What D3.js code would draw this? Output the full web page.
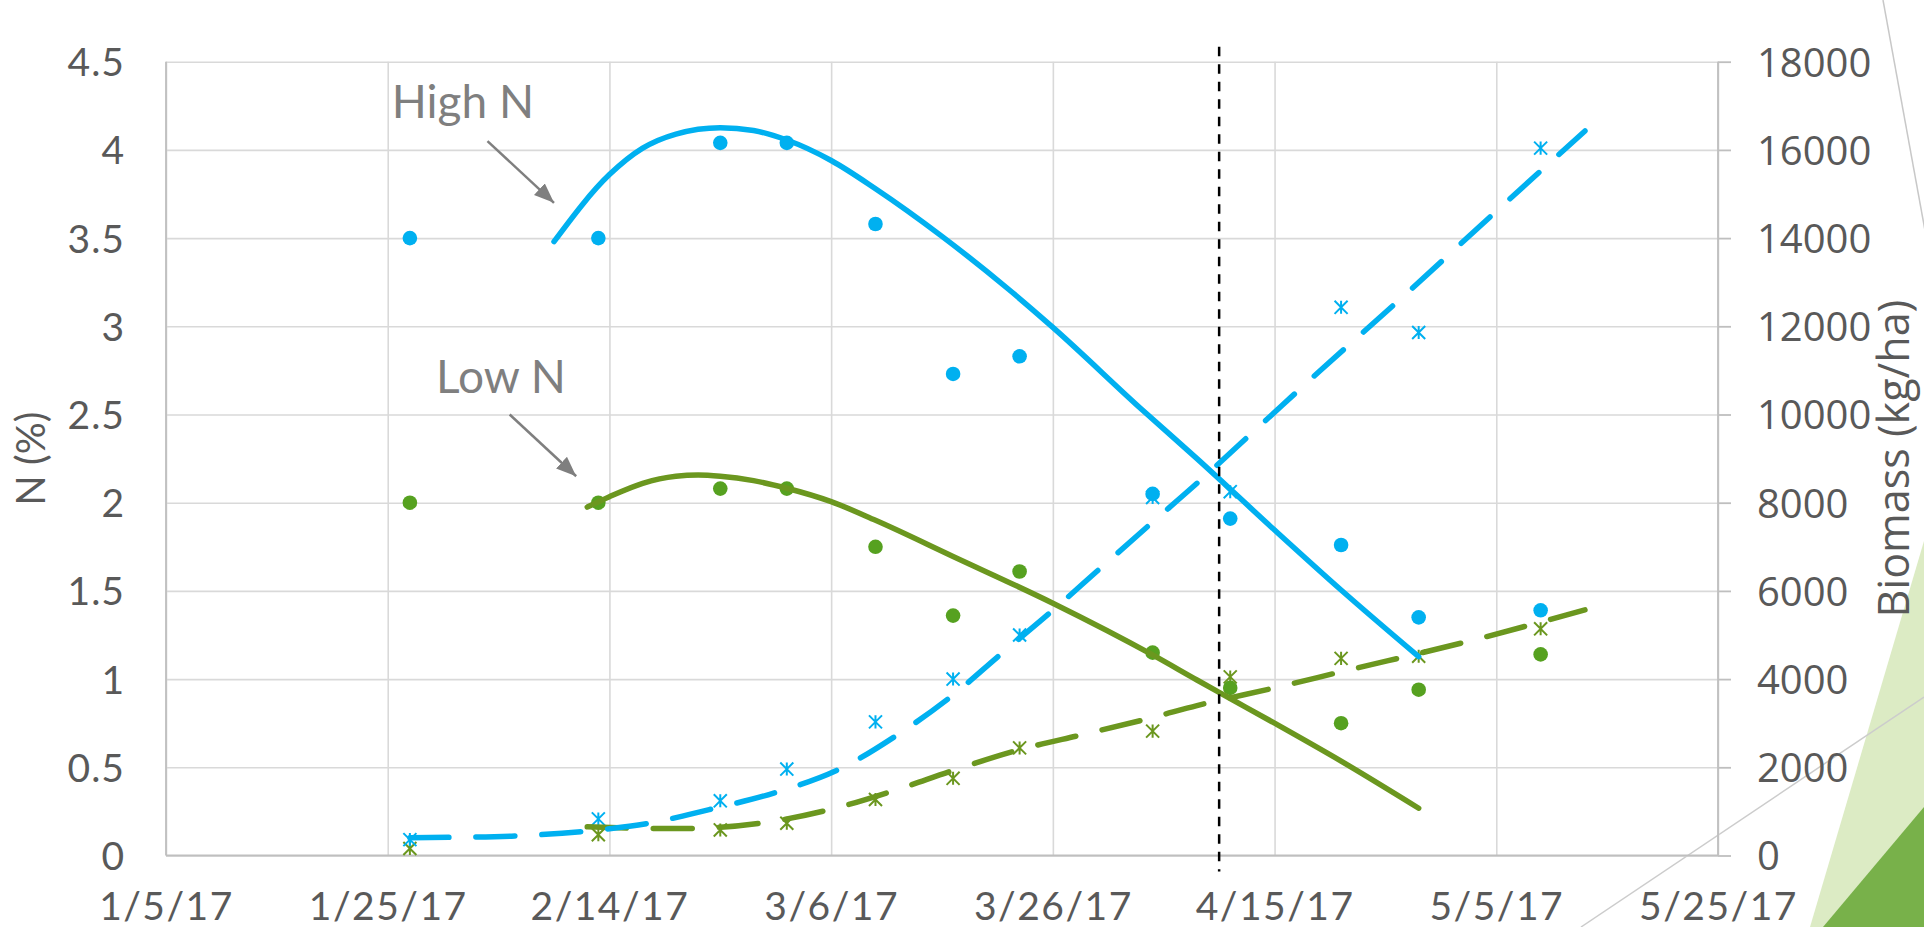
<!DOCTYPE html>
<html>
<head>
<meta charset="utf-8">
<script src="https://cdn.jsdelivr.net/npm/d3@7"></script>
<style>
  body { margin: 0; background: #fff; overflow: hidden; }
  text { font-family: Lato, sans-serif; }
</style>
</head>
<body>
<div id="chart"></div>
<script>
// sampling dates and measured values
var sampleDates = ["1/27/17", "2/13/17", "2/24/17", "3/2/17", "3/10/17", "3/17/17", "3/23/17", "4/4/17", "4/11/17", "4/21/17", "4/28/17", "5/9/17"];
var highN = [3.50, 3.50, 4.04, 4.04, 3.58, 2.73, 2.83, 2.05, 1.91, 1.76, 1.35, 1.39];
var lowN = [2.00, 2.00, 2.08, 2.08, 1.75, 1.36, 1.61, 1.15, 0.95, 0.75, 0.94, 1.14];
var highBiomass = [360, 830, 1240, 1960, 3030, 4000, 5000, 8120, 8250, 12430, 11860, 16040];
var lowBiomass = [160, 470, 580, 730, 1270, 1750, 2440, 2820, 4050, 4470, 4520, 5140];

// trend lines
var highNTrendDates = ["2/9/17", "2/14/17", "2/17/17", "2/20/17", "2/24/17", "2/27/17", "3/2/17", "3/6/17", "3/10/17", "3/16/17", "3/22/17", "3/26/17", "4/3/17", "4/8/17", "4/15/17", "4/21/17", "4/28/17"];
var highNTrend = [3.48, 3.86, 4.01, 4.09, 4.126, 4.11, 4.056, 3.94, 3.78, 3.51, 3.21, 2.994, 2.53, 2.25, 1.845, 1.505, 1.127];
var lowNTrendDates = ["2/12/17", "2/14/17", "2/17/17", "2/20/17", "2/22/17", "2/24/17", "2/27/17", "3/2/17", "3/6/17", "3/10/17", "3/17/17", "3/26/17", "4/4/17", "4/8/17", "4/11/17", "4/15/17", "4/21/17", "4/28/17"];
var lowNTrend = [1.975, 2.034, 2.11, 2.15, 2.157, 2.15, 2.125, 2.082, 2.006, 1.90, 1.695, 1.43, 1.137, 0.995, 0.89, 0.75, 0.535, 0.268];
var highBioTrendDates = ["1/27/17", "1/31/17", "2/6/17", "2/13/17", "2/18/17", "2/20/17", "2/23/17", "3/1/17", "3/7/17", "3/12/17", "3/17/17", "3/21/17", "3/26/17", "3/30/17", "4/4/17", "4/8/17", "4/14/17", "4/19/17", "4/26/17", "5/5/17", "5/13/17"];
var highBioTrend = [404, 413, 449, 578, 750, 860, 1040, 1430, 1990, 2740, 3640, 4500, 5560, 6450, 7560, 8440, 9820, 10970, 12540, 14610, 16430];
var lowBioTrendDates = ["2/12/17", "2/16/17", "2/20/17", "2/24/17", "2/28/17", "3/6/17", "3/12/17", "3/17/17", "3/23/17", "3/29/17", "4/4/17", "4/8/17", "4/15/17", "4/21/17", "5/3/17", "5/13/17"];
var lowBioTrend = [650, 620, 610, 640, 745, 1050, 1500, 1930, 2400, 2760, 3130, 3400, 3800, 4165, 4890, 5570];

// axes
var xTickLabels = ["1/5/17", "1/25/17", "2/14/17", "3/6/17", "3/26/17", "4/15/17", "5/5/17", "5/25/17"];
var nTicks = [0, 0.5, 1, 1.5, 2, 2.5, 3, 3.5, 4, 4.5];
var bioTicks = [0, 2000, 4000, 6000, 8000, 10000, 12000, 14000, 16000, 18000];
var cutDate = "4/10/17";

var width = 1924;
var height = 927;
var plotL = 166, plotR = 1718, plotT = 61.7, plotB = 855.5;

var blue = "#00b0f0";
var greenDot = "#56a120";
var greenLine = "#6b971f";
var grid = "#d9d9d9";
var axisCol = "#bfbfbf";
var labelCol = "#595959";

var parse = d3.utcParse("%m/%d/%y");

var x = d3.scaleUtc()
  .domain([parse(xTickLabels[0]), parse(xTickLabels[xTickLabels.length - 1])])
  .range([plotL, plotR]);
var yN = d3.scaleLinear().domain([0, 4.5]).range([plotB, plotT]);
var yB = d3.scaleLinear().domain([0, 18000]).range([plotB, plotT]);

var svg = d3.select("#chart").append("svg")
  .attr("width", width)
  .attr("height", height);

// slide theme decoration
var deco = svg.append("g");
deco.append("polygon").attr("points", "1810,927 1924,541 1924,927").attr("fill", "#dcebc4");
deco.append("polygon").attr("points", "1823,927 1924,807 1924,927").attr("fill", "#78b14a");
deco.append("line").attr("x1", 1883).attr("y1", 0).attr("x2", 1926).attr("y2", 236)
  .attr("stroke", "#c8c8c8").attr("stroke-width", 1.5);
deco.append("line").attr("x1", 1581).attr("y1", 927).attr("x2", 1924).attr("y2", 697)
  .attr("stroke", "#cccccc").attr("stroke-width", 1.5);

// grid
var gridG = svg.append("g");
gridG.append("g")
  .attr("transform", "translate(" + plotL + ",0)")
  .call(d3.axisLeft(yN).tickValues(nTicks).tickSize(-(plotR - plotL)).tickFormat(""))
  .call(function (g) { g.select(".domain").remove(); })
  .selectAll("line").attr("stroke", grid).attr("stroke-width", 1.6);
gridG.append("g")
  .attr("transform", "translate(0," + plotB + ")")
  .call(d3.axisBottom(x).tickValues(xTickLabels.map(parse)).tickSize(-(plotB - plotT)).tickFormat(""))
  .call(function (g) { g.select(".domain").remove(); })
  .selectAll("line").attr("stroke", grid).attr("stroke-width", 1.6);

// axis lines
svg.append("line").attr("x1", plotL).attr("x2", plotL).attr("y1", plotT).attr("y2", plotB)
  .attr("stroke", axisCol).attr("stroke-width", 1.8);
svg.append("line").attr("x1", plotL).attr("x2", plotR).attr("y1", plotB).attr("y2", plotB)
  .attr("stroke", axisCol).attr("stroke-width", 1.8);
svg.append("line").attr("x1", plotR).attr("x2", plotR).attr("y1", plotT).attr("y2", plotB)
  .attr("stroke", axisCol).attr("stroke-width", 1.8);

// left tick labels
var leftAxis = svg.append("g")
  .attr("transform", "translate(" + plotL + ",0)")
  .call(d3.axisLeft(yN).tickValues(nTicks).tickSize(0).tickPadding(41).tickFormat(d3.format("")));
leftAxis.select(".domain").remove();
leftAxis.selectAll("text")
  .attr("dy", "0.36em")
  .style("font-family", "Lato, sans-serif")
  .style("font-size", "39px")
  .style("letter-spacing", "1px")
  .attr("fill", labelCol);

// bottom tick labels
var bottomAxis = svg.append("g")
  .attr("transform", "translate(0," + plotB + ")")
  .call(d3.axisBottom(x).tickValues(xTickLabels.map(parse)).tickSize(0).tickFormat(d3.utcFormat("%-m/%-d/%y")));
bottomAxis.select(".domain").remove();
bottomAxis.selectAll("text")
  .attr("y", 64.5)
  .attr("dy", 0)
  .style("font-family", "Lato, sans-serif")
  .style("font-size", "39px")
  .style("letter-spacing", "1.5px")
  .attr("fill", labelCol);

// right axis
var rightAxis = svg.append("g")
  .attr("transform", "translate(" + plotR + ",0)")
  .call(d3.axisRight(yB).tickValues(bioTicks).tickSize(13).tickPadding(26).tickFormat(d3.format("")));
rightAxis.select(".domain").remove();
rightAxis.selectAll("line").attr("stroke", axisCol).attr("stroke-width", 1.8);
rightAxis.selectAll("text")
  .attr("dy", "0.36em")
  .style("font-family", "'Open Sans', sans-serif")
  .style("font-size", "40px")
  .attr("fill", labelCol);

// axis titles
svg.append("text")
  .attr("transform", "translate(45," + (plotT + plotB) / 2 + ") rotate(-90)")
  .attr("text-anchor", "middle")
  .style("font-size", "40px")
  .attr("fill", labelCol)
  .text("N (%)");
svg.append("text")
  .attr("transform", "translate(1909," + (plotT + plotB) / 2 + ") rotate(-90)")
  .attr("text-anchor", "middle")
  .style("font-family", "'Open Sans', sans-serif")
  .style("font-size", "43px")
  .attr("fill", labelCol)
  .text("Biomass (kg/ha)");

// markers
var star = {
  draw: function (ctx, size) {
    var r = Math.sqrt(size) / 2;
    ctx.moveTo(0, -r); ctx.lineTo(0, r);
    ctx.moveTo(-r, -r); ctx.lineTo(r, r);
    ctx.moveTo(-r, r); ctx.lineTo(r, -r);
  }
};
var starPath = d3.symbol().type(star).size(170);

function stars(values, color) {
  svg.append("g").selectAll("path")
    .data(values)
    .enter()
    .append("path")
    .attr("d", starPath)
    .attr("transform", function (d, i) { return "translate(" + x(parse(sampleDates[i])) + "," + yB(d) + ")"; })
    .attr("fill", "none")
    .attr("stroke", color)
    .attr("stroke-width", 2);
}
function dots(values, color) {
  svg.append("g").selectAll("circle")
    .data(values)
    .enter()
    .append("circle")
    .attr("cx", function (d, i) { return x(parse(sampleDates[i])); })
    .attr("cy", function (d) { return yN(d); })
    .attr("r", 7.3)
    .attr("fill", color);
}
stars(lowBiomass, greenLine);
stars(highBiomass, blue);
dots(lowN, greenDot);
dots(highN, blue);

// trend lines
function trend(dates, values, yScale, color, dash) {
  var pts = dates.map(function (d, i) { return [x(parse(d)), yScale(values[i])]; });
  var line = d3.line().curve(d3.curveMonotoneX);
  svg.append("path")
    .attr("d", line(pts))
    .attr("fill", "none")
    .attr("stroke", color)
    .attr("stroke-width", 5.5)
    .attr("stroke-linecap", "round")
    .attr("stroke-dasharray", dash);
}
trend(lowNTrendDates, lowNTrend, yN, greenLine, null);
trend(highNTrendDates, highNTrend, yN, blue, null);
trend(lowBioTrendDates, lowBioTrend, yB, greenLine, "39,27");
trend(highBioTrendDates, highBioTrend, yB, blue, "39,27");

// vertical cut line
svg.append("line")
  .attr("x1", x(parse(cutDate))).attr("x2", x(parse(cutDate)))
  .attr("y1", plotT - 15).attr("y2", plotB + 16)
  .attr("stroke", "#000")
  .attr("stroke-width", 2.5)
  .attr("stroke-dasharray", "9.5,8");

// annotations
var notes = [
  { text: "High N", date: "1/25/17", value: 4.18, from: ["2/3/17", 4.05], to: ["2/9/17", 3.70] },
  { text: "Low N", date: "1/29/17", value: 2.62, from: ["2/5/17", 2.50], to: ["2/11/17", 2.15] }
];
svg.append("defs").append("marker")
  .attr("id", "arrow")
  .attr("markerUnits", "userSpaceOnUse")
  .attr("viewBox", "0 0 20 16")
  .attr("refX", 20)
  .attr("refY", 8)
  .attr("markerWidth", 20)
  .attr("markerHeight", 16)
  .attr("orient", "auto")
  .append("path")
  .attr("d", "M0,0L20,8L0,16Z")
  .attr("fill", "#7f7f7f");

var noteG = svg.append("g").selectAll("g").data(notes).enter().append("g");
noteG.append("text")
  .attr("x", function (d) { return x(parse(d.date)) + 4; })
  .attr("y", function (d) { return yN(d.value); })
  .style("font-size", "46px")
  .attr("fill", "#7f7f7f")
  .text(function (d) { return d.text; });
noteG.append("line")
  .attr("x1", function (d) { return x(parse(d.from[0])); })
  .attr("y1", function (d) { return yN(d.from[1]); })
  .attr("x2", function (d) { return x(parse(d.to[0])); })
  .attr("y2", function (d) { return yN(d.to[1]); })
  .attr("stroke", "#7f7f7f")
  .attr("stroke-width", 2.5)
  .attr("marker-end", "url(#arrow)");
</script>
</body>
</html>
